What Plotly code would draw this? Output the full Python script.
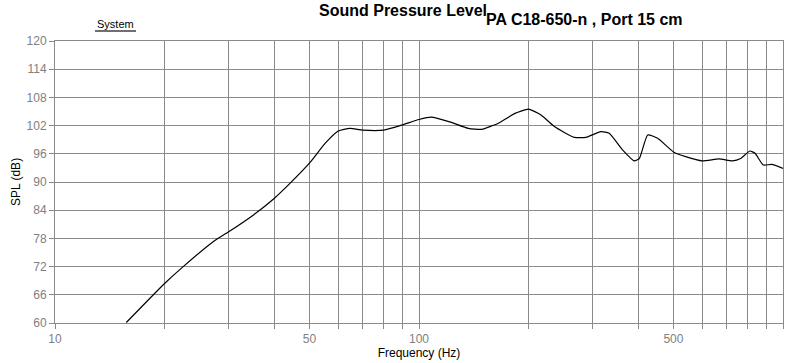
import plotly.graph_objects as go

# Frequency response data
freq_hz = [15.7, 20, 22.5, 27.2, 30, 35.1, 40, 44.2, 50, 55.2, 60, 64.6, 70, 80, 89.6,
           100, 108, 121.4, 136.6, 148.6, 165.2, 183.5, 200, 216.4, 235.4, 267.2, 287.6,
           316, 333, 362.8, 390.4, 403, 424.9, 452.6, 500, 540.4, 600, 667, 726, 765,
           811, 838, 883, 931, 1000]
spl_db = [60.1, 68.4, 72.0, 77.3, 79.4, 83.0, 86.5, 89.7, 94.0, 98.2, 100.85, 101.4, 101.05, 101.05, 102.1,
          103.3, 103.8, 102.8, 101.4, 101.2, 102.5, 104.6, 105.5, 104.25, 101.8, 99.5, 99.5,
          100.7, 100.35, 96.8, 94.5, 95.0, 100.0, 99.3, 96.4, 95.4, 94.5, 94.9, 94.5, 95.0,
          96.6, 96.1, 93.6, 93.75, 92.9]

x_grid = [10, 20, 30, 40, 50, 60, 70, 80, 90, 100, 200, 300, 400, 500, 600, 700, 800, 900, 1000]
x_labels = ["10", "", "", "", "50", "", "", "", "", "100", "", "", "", "500", "", "", "", "", ""]
y_ticks = [60, 66, 72, 78, 84, 90, 96, 102, 108, 114, 120]

PL, PR, PT, PB = 55, 783, 41, 323
def px(x):
    return (x - PL) / (PR - PL)
def py(y):
    return (PB - y) / (PB - PT)

fig = go.Figure()
fig.add_trace(go.Scatter(x=freq_hz, y=spl_db, mode="lines",
                         line=dict(color="black", width=1.2, shape="spline", smoothing=0.5),
                         showlegend=False, hoverinfo="skip"))

grid = "#8a8a8a"
fig.update_layout(
    width=795, height=363,
    margin=dict(l=PL, r=795 - PR, t=PT, b=363 - PB, autoexpand=False),
    showlegend=False,
    paper_bgcolor="white", plot_bgcolor="white",
    font=dict(family="Liberation Sans", size=12, color="#808080"),
    xaxis=dict(type="log", range=[1, 3], tickmode="array", tickvals=x_grid, ticktext=x_labels,
               showgrid=True, gridcolor=grid, gridwidth=1, automargin=False,
               showline=True, linecolor=grid, linewidth=1, mirror=True,
               ticks="outside", ticklen=5, tickcolor=grid, zeroline=False,
               tickfont=dict(color="#808080", size=12),
               title=dict(text="Frequency (Hz)", font=dict(color="black", size=12), standoff=2)),
    yaxis=dict(range=[60, 120], tickmode="array", tickvals=y_ticks,
               showgrid=True, gridcolor=grid, gridwidth=1, automargin=False,
               showline=True, linecolor=grid, linewidth=1, mirror=True,
               ticks="outside", ticklen=5, tickcolor=grid, zeroline=False,
               tickfont=dict(color="#808080", size=12),
               title=dict(text="SPL (dB)", font=dict(color="black", size=12), standoff=3)),
)

fig.add_annotation(text="<b>Sound Pressure Level</b>", showarrow=False,
                   x=px(403), y=py(11), xref="paper", yref="paper",
                   xanchor="center", yanchor="middle",
                   font=dict(family="Liberation Sans", size=16, color="black"))
fig.add_annotation(text="<b>PA C18-650-n , Port 15 cm</b>", showarrow=False,
                   x=px(584), y=py(19), xref="paper", yref="paper",
                   xanchor="center", yanchor="middle",
                   font=dict(family="Liberation Sans Narrow, Liberation Sans", size=16, color="black"))
fig.add_annotation(text="System", showarrow=False,
                   x=px(115), y=py(24), xref="paper", yref="paper",
                   xanchor="center", yanchor="middle",
                   font=dict(family="Liberation Sans", size=11, color="black"))
fig.add_shape(type="line", xref="paper", yref="paper",
              x0=px(95), x1=px(136), y0=py(31), y1=py(31),
              line=dict(color="#404040", width=1.5))

fig.write_html("out.html", config={"displayModeBar": False},
               post_script="document.body.style.margin='0';document.body.style.padding='0';")
